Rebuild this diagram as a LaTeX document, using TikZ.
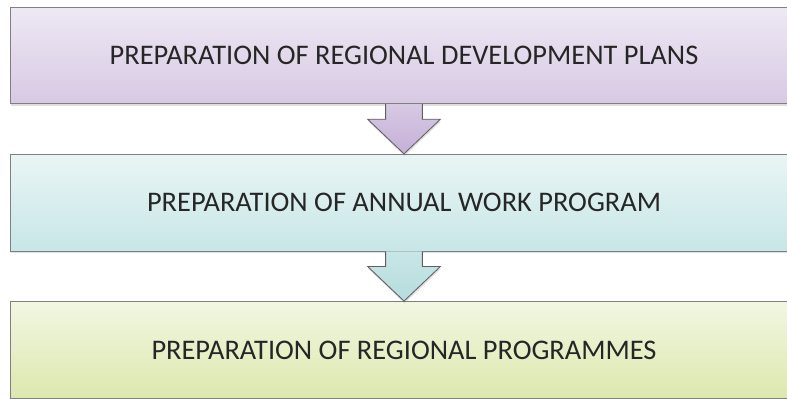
\documentclass[tikz,border=0pt]{standalone}
\usepackage{fontspec}
\setmainfont{Carlito}
\usetikzlibrary{positioning,calc,shadows}

\definecolor{planTop}{HTML}{EEE8F4}
\definecolor{planBottom}{HTML}{D7C9E3}
\definecolor{planTip}{HTML}{C5AFD7}
\definecolor{workTop}{HTML}{E9F5F5}
\definecolor{workBottom}{HTML}{C8E6E7}
\definecolor{workTip}{HTML}{B6DCDD}
\definecolor{progTop}{HTML}{F2F7E3}
\definecolor{progBottom}{HTML}{DCE8AD}
\definecolor{edgeGray}{HTML}{7F7F7F}
\definecolor{arrowGray}{HTML}{5F5F5F}

\begin{document}
\begin{tikzpicture}[
			stage/.style={rectangle, draw=edgeGray, line width=0.6pt, minimum width=19.7cm, minimum height=2.42cm,
				inner sep=0, font=\fontsize{20.2}{24}\selectfont, text=black!85,
				drop shadow={opacity=0.25, shadow xshift=0.4pt, shadow yshift=-1.6pt}},
			flow/.style={draw=arrowGray, line width=0.6pt, line join=miter,
				drop shadow={opacity=0.25, shadow xshift=0.4pt, shadow yshift=-1.6pt}},
		]
		\useasboundingbox (0,0) rectangle (19.675,-9.95);
		\clip (0,0) rectangle (19.675,-9.95);
		\node[stage, top color=planTop, bottom color=planBottom] (box1) at (10.1,-1.385) {PREPARATION OF REGIONAL DEVELOPMENT PLANS};
		\node[stage, top color=workTop, bottom color=workBottom, below=1.24cm of box1] (box2) {PREPARATION OF ANNUAL WORK PROGRAM};
		\node[stage, top color=progTop, bottom color=progBottom, below=1.24cm of box2] (box3) {PREPARATION OF REGIONAL PROGRAMMES};
		% block arrows
		\path[flow, top color=planBottom, bottom color=planTip]
			($(box1.south)+(-0.46,0)$) -- ($(box1.south)+(-0.46,-0.375)$) -- ($(box1.south)+(-0.91,-0.375)$)
			-- (box2.north) -- ($(box1.south)+(0.91,-0.375)$) -- ($(box1.south)+(0.46,-0.375)$) -- ($(box1.south)+(0.46,0)$);
		\path[flow, top color=workBottom, bottom color=workTip]
			($(box2.south)+(-0.46,0)$) -- ($(box2.south)+(-0.46,-0.375)$) -- ($(box2.south)+(-0.91,-0.375)$)
			-- (box3.north) -- ($(box2.south)+(0.91,-0.375)$) -- ($(box2.south)+(0.46,-0.375)$) -- ($(box2.south)+(0.46,0)$);
		\end{tikzpicture}
\end{document}
